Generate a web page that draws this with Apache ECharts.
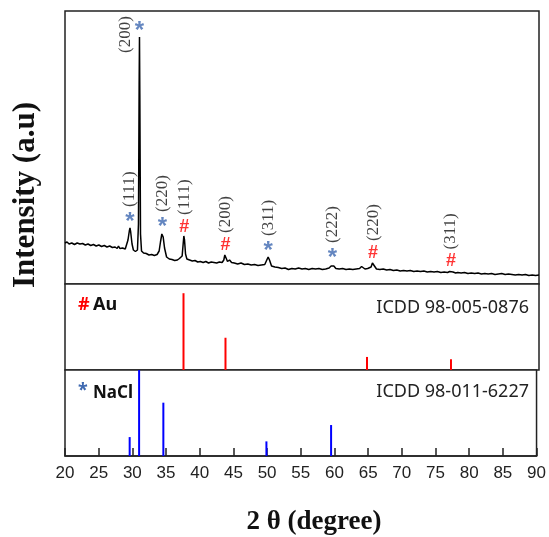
<!DOCTYPE html>
<html>
<head>
<meta charset="utf-8">
<script src="https://cdn.jsdelivr.net/npm/echarts@6/dist/echarts.min.js"></script>
<style>
  html, body { margin: 0; padding: 0; background: #fff; }
  #xrd { width: 549px; height: 537px; }
</style>
</head>
<body>
<div id="xrd"></div>
<script>
// measured pattern (2 theta, intensity a.u.)
var twoTheta = [
  20.0, 20.3, 20.6, 21.0, 21.4, 21.8, 22.2, 22.6, 23.0, 23.4, 23.8, 24.2, 24.6, 25.0, 25.4, 25.8,
  26.2, 26.6, 27.0, 27.4, 27.7, 27.9, 28.1, 28.5, 28.9, 29.1, 29.3, 29.5, 29.6, 29.7, 29.9, 30.1,
  30.4, 30.7, 30.85, 30.95, 31.0, 31.05, 31.15, 31.3, 31.6, 32.0, 32.4, 32.8, 33.2, 33.6, 33.9, 34.1,
  34.3, 34.4, 34.5, 34.7, 35.0, 35.4, 35.8, 36.2, 36.6, 36.9, 37.1, 37.3, 37.45, 37.55, 37.65, 37.8,
  38.0, 38.4, 38.8, 39.2, 39.6, 40.0, 40.4, 40.8, 41.2, 41.6, 42.0, 42.4, 42.8, 43.2, 43.45, 43.6,
  43.7, 43.8, 44.0, 44.3, 44.6, 45.0, 45.5, 46.0, 46.5, 47.0, 47.5, 48.0, 48.5, 49.0, 49.5, 49.8,
  50.0, 50.2, 50.5, 51.0, 51.5, 52.0, 52.5, 53.0, 53.5, 54.0, 54.5, 55.0, 55.5, 56.0, 56.5, 57.0,
  57.5, 58.0, 58.5, 59.0, 59.3, 59.5, 59.7, 60.0, 60.5, 61.0, 61.5, 62.0, 62.5, 63.0, 63.5, 63.8,
  64.0, 64.3, 64.7, 65.2, 65.4, 65.5, 65.7, 66.0, 66.5, 67.0, 67.5, 68.0, 68.5, 69.0, 69.5, 70.0,
  70.5, 71.0, 71.5, 72.0, 72.5, 73.0, 73.5, 74.0, 74.5, 75.0, 75.5, 76.0, 76.5, 76.8, 77.0, 77.3,
  77.7, 78.0, 78.5, 79.0, 79.5, 80.0, 80.5, 81.0, 81.5, 82.0, 82.5, 83.0, 83.5, 84.0, 84.5, 85.0,
  85.5, 86.0, 86.5, 87.0, 87.5, 88.0, 88.5, 89.0, 89.5, 90.0
];
var intensity = [
  41, 42, 40, 41, 39.5, 41, 40, 40.5, 39, 40, 38.5, 39.5, 38, 39, 37.5, 38.5,
  37, 38, 36.5, 37, 35.5, 38, 35.5, 36, 35, 37, 44, 53, 56, 52, 40, 34,
  32.5, 34, 60, 200, 247, 190, 50, 33, 31, 30.5, 29, 29.5, 28.5, 29.5, 33, 42,
  50, 51, 47, 36, 27, 25, 24.5, 23.5, 24, 25.5, 23.5, 28, 40, 48, 44, 30,
  25, 24, 23, 23.5, 22, 22.5, 21.5, 22.5, 21, 22, 21.5, 21, 22, 21.5, 24, 29,
  30, 27, 22.5, 24, 21.5, 21, 20, 21, 19.5, 20, 19, 19.5, 18.5, 19, 19.5, 24,
  27, 24, 18, 17, 16.5, 15.5, 16, 14.5, 15.5, 15, 16, 15, 15.5, 14.5, 15.5, 15,
  15.5, 14.5, 15, 16, 18, 20, 18, 15.5, 15, 15.5, 14.5, 15, 14.5, 15, 15.5, 17.5,
  16, 15, 15.5, 17, 21, 22, 18, 15, 14.5, 15, 14, 14.5, 13.5, 14, 13, 13.5,
  13, 13.5, 12.5, 13, 12.5, 13, 12, 12.5, 12, 12.5, 11.5, 12, 11.5, 12.5, 13.5, 12,
  11, 11.5, 11, 11.5, 10.5, 11, 10.5, 11, 10, 10.5, 10, 10.5, 9.5, 10, 10.5, 9.5,
  10, 9.5, 9, 9.5, 9, 9.5, 8.5, 9, 8.5, 9
];

// indexed peaks
var naclPeaks = [29.6, 31.0, 34.4, 50.0, 59.5];
var naclHkl = ['(111)', '(200)', '(220)', '(311)', '(222)'];
var auPeaks = [37.6, 43.7, 65.5, 77.0];
var auHkl = ['(111)', '(200)', '(220)', '(311)'];

// reference cards (2 theta, relative intensity)
var auRefPos = [37.5, 43.7, 64.6, 77.0];
var auRefInt = [100, 42, 17, 14];
var naclRefPos = [29.6, 31.0, 34.6, 49.9, 59.5];
var naclRefInt = [22, 100, 62, 17, 36];

var chart = echarts.init(document.getElementById('xrd'));

function peakTop(x) {
  var best = 0;
  for (var i = 0; i < twoTheta.length; i++) {
    if (Math.abs(twoTheta[i] - x) <= 0.25 && intensity[i] > best) best = intensity[i];
  }
  return best;
}

function zip(a, b) {
  return a.map(function (v, i) { return [v, b[i]]; });
}

var serif = '"Liberation Serif", "Times New Roman", serif';
var sans = '"Liberation Sans", Arial, sans-serif';
var calibri = '"Noto Sans", sans-serif';
var starBlue = '#3d68b0';

function markSeries(peaks, glyph, color, size, dy) {
  return {
    type: 'scatter', xAxisIndex: 0, yAxisIndex: 0, symbolSize: 0.01, silent: true,
    data: peaks.map(function (x) { return [x, peakTop(x)]; }),
    label: {
      show: true, formatter: glyph, position: [0, dy],
      align: 'center', verticalAlign: 'middle',
      color: color, fontSize: size, fontWeight: 'bold', fontFamily: sans
    }
  };
}

function hklSeries(peaks, hkl) {
  return {
    type: 'scatter', xAxisIndex: 0, yAxisIndex: 0, symbolSize: 0.01, silent: true,
    data: peaks.map(function (x, i) {
      var top = peakTop(x);
      var item = { value: [x, top], name: hkl[i] };
      // tallest peak: label sits beside it, not above
      if (top > 200) item.label = { position: [-14, 16] };
      return item;
    }),
    label: {
      show: true, formatter: '{b}', position: [0, -21], rotate: 90,
      align: 'left', verticalAlign: 'middle',
      color: '#111', fontSize: 17, fontFamily: serif
    }
  };
}

var grids = [
  { left: 65, right: 10, top: 11, height: 273 },
  { left: 65, right: 10, top: 284, height: 86 },
  { left: 65, right: 10, top: 370, height: 86 }
].map(function (g) {
  g.show = true; g.borderColor = '#222'; g.borderWidth = 1.5; g.backgroundColor = '#fff';
  return g;
});

var option = {
  animation: false,
  backgroundColor: '#fff',
  grid: grids,
  xAxis: [0, 1, 2].map(function (i) {
    return {
      type: 'value', gridIndex: i, min: 20, max: 90, interval: 5,
      show: i === 2,
      splitLine: { show: false },
      axisLine: { show: true, lineStyle: { color: '#222', width: 1.5 } },
      axisTick: { show: true, inside: true, length: 8, lineStyle: { color: '#222', width: 1.5 } },
      axisLabel: { color: '#222', fontSize: 17, fontFamily: sans, margin: 9 }
    };
  }),
  yAxis: [
    { type: 'value', gridIndex: 0, min: 0, max: 273, show: false },
    { type: 'value', gridIndex: 1, min: 0, max: 112, show: false },
    { type: 'value', gridIndex: 2, min: 0, max: 100, show: false }
  ],
  series: [
    {
      type: 'line', xAxisIndex: 0, yAxisIndex: 0, data: zip(twoTheta, intensity),
      symbol: 'none', lineStyle: { color: '#000', width: 1.5 }, silent: true
    },
    markSeries(naclPeaks, '*', starBlue, 24, -6),
    markSeries(auPeaks, '#', '#ff0000', 18, -9),
    hklSeries(naclPeaks, naclHkl),
    hklSeries(auPeaks, auHkl),
    {
      type: 'bar', xAxisIndex: 1, yAxisIndex: 1, data: zip(auRefPos, auRefInt),
      barWidth: 2, itemStyle: { color: '#ff0000' }, silent: true
    },
    {
      type: 'bar', xAxisIndex: 2, yAxisIndex: 2, data: zip(naclRefPos, naclRefInt),
      barWidth: 2, itemStyle: { color: '#0000ff' }, silent: true
    }
  ],
  graphic: [
    { type: 'text', x: 78, y: 305, style: { text: '#', fill: '#ff0000', font: 'bold 18px ' + calibri, textVerticalAlign: 'middle' } },
    { type: 'text', x: 93, y: 305, style: { text: 'Au', fill: '#111', font: 'bold 18px ' + calibri, textVerticalAlign: 'middle' } },
    { type: 'text', x: 78, y: 391, style: { text: '*', fill: starBlue, font: 'bold 18px ' + calibri, textVerticalAlign: 'middle' } },
    { type: 'text', x: 93, y: 393, style: { text: 'NaCl', fill: '#111', font: 'bold 17px ' + calibri, textVerticalAlign: 'middle' } },
    { type: 'text', x: 529, y: 308, style: { text: 'ICDD 98-005-0876', fill: '#222', font: '18px ' + calibri, textAlign: 'right', textVerticalAlign: 'middle' } },
    { type: 'text', x: 529, y: 392, style: { text: 'ICDD 98-011-6227', fill: '#222', font: '18px ' + calibri, textAlign: 'right', textVerticalAlign: 'middle' } },
    { type: 'text', x: 314, y: 522, style: { text: '2 θ (degree)', fill: '#111', font: 'bold 27px ' + serif, textAlign: 'center', textVerticalAlign: 'middle' } },
    { type: 'text', x: 26, y: 195, rotation: Math.PI / 2, style: { text: 'Intensity (a.u)', fill: '#111', font: 'bold 31px ' + serif, textAlign: 'center', textVerticalAlign: 'middle' } }
  ]
};

chart.setOption(option);
</script>
</body>
</html>
